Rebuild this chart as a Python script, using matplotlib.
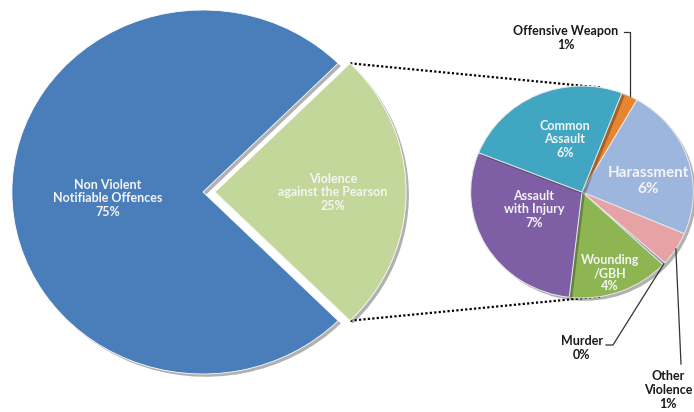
import numpy as np
import matplotlib
matplotlib.use("Agg")
import matplotlib.pyplot as plt
import matplotlib.patheffects as pe

# ---------------------------------------------------------------------------
# Datos
# ---------------------------------------------------------------------------
main_labels = ["Non Violent\nNotifiable Offences", "Violence\nagainst the Pearson"]
main_values = [75, 25]
main_colors = ["#4A7EBB", "#C4D79B"]

sub_labels = ["Offensive Weapon", "Harassment", "Other\nViolence", "Murder",
              "Wounding\n/GBH", "Assault\nwith Injury", "Common\nAssault"]
sub_values = [0.6, 5.8, 1.3, 0.1, 3.7, 7.3, 6.2]
sub_colors = ["#E8862F", "#9DB6DE", "#E6A2A5", "#8C8FA8",
              "#8DB652", "#7E5FA6", "#40A6C1"]

# ---------------------------------------------------------------------------
# Geometría (coordenadas en píxeles, la imagen va algo estirada en x)
# ---------------------------------------------------------------------------
W, H = 694, 412
SX = 1.05


def px(x, y):
    return x / SX, H - y


fig = plt.figure(figsize=(W / 100, H / 100), dpi=100)
ax = fig.add_axes([0, 0, 1, 1])

shadow = [pe.SimplePatchShadow(offset=(2, -2), alpha=0.35, shadow_rgbFace="#202020"),
          pe.Normal()]

big_c = px(203, 192)
big_r = 182
# explode en pie() va en unidades de datos, no en fracción del radio
explode = [0, 12 / SX]
wedges1, _ = ax.pie(main_values, colors=main_colors, startangle=-45,
                    counterclock=False, center=big_c, radius=big_r,
                    explode=explode,
                    wedgeprops=dict(edgecolor="white", linewidth=0.6))
for w in wedges1:
    w.set_path_effects(shadow)

small_c = px(582, 192)
small_r = 106
wedges2, _ = ax.pie(sub_values, colors=sub_colors, startangle=69,
                    counterclock=False, center=small_c, radius=small_r,
                    wedgeprops=dict(edgecolor="#E8E8E8", linewidth=0.7))
for w in wedges2:
    w.set_path_effects(shadow)

ax.set_aspect("auto")
ax.set_xlim(0, W / SX)
ax.set_ylim(0, H)
ax.axis("off")

# ---------------------------------------------------------------------------
# Líneas de conexión punteadas
# ---------------------------------------------------------------------------
g = wedges1[1]
gc = np.array(g.center)
for ang, sa in [(g.theta2, 80), (g.theta1, -80)]:
    p0 = gc + big_r * np.array([np.cos(np.radians(ang)), np.sin(np.radians(ang))])
    p1 = np.array(small_c) + small_r * np.array([np.cos(np.radians(sa)), np.sin(np.radians(sa))])
    ax.plot([p0[0], p1[0]], [p0[1], p1[1]], color="black", lw=1.6,
            linestyle=(0, (1, 1)), zorder=0)

# ---------------------------------------------------------------------------
# Etiquetas
# ---------------------------------------------------------------------------
FONT = "Lato"


def inner(x, y, s, size=9):
    ax.text(*px(x, y), s, ha="center", va="center", color="#F4F4F4",
            fontsize=size, fontweight="bold", family=FONT, linespacing=1.15)


def outer(x, y, s):
    ax.text(*px(x, y), s, ha="center", va="center", color="#1A1A1A",
            fontsize=9, fontweight="bold", family=FONT, linespacing=1.15)


inner(108, 198, f"{main_labels[0]}\n{main_values[0]}%")
inner(333, 192, f"{main_labels[1]}\n{main_values[1]}%")

inner(565, 139, f"{sub_labels[6]}\n{sub_values[6]:.0f}%")
inner(648, 181, f"{sub_labels[1]}\n{sub_values[1]:.0f}%", size=11)
inner(534, 209, f"{sub_labels[5]}\n{sub_values[5]:.0f}%")
inner(610, 273, f"{sub_labels[4]}\n{sub_values[4]:.0f}%")

outer(566, 38, f"{sub_labels[0]}\n{sub_values[0]:.0f}%")
outer(582, 348, f"{sub_labels[3]}\n{sub_values[3]:.0f}%")
outer(668, 390, f"{sub_labels[2]}\n{sub_values[2]:.0f}%")


# líneas guía de las etiquetas externas hacia su porción
def slice_edge(w, frac=1.0):
    mid = np.radians((w.theta1 + w.theta2) / 2)
    c = np.array(w.center)
    return c + w.r * frac * np.array([np.cos(mid), np.sin(mid)])


lead = dict(color="#333333", lw=0.9, zorder=5)
p = slice_edge(wedges2[0])
a = px(624, 32)
ax.plot([a[0], p[0], p[0]], [a[1], a[1], p[1]], **lead)

p = slice_edge(wedges2[3])
a = px(606, 345)
b = px(613, 345)
ax.plot([a[0], b[0], p[0]], [a[1], b[1], p[1]], **lead)

p = slice_edge(wedges2[2])
a = px(681, 364)
ax.plot([a[0], p[0]], [a[1], p[1]], **lead)

fig.savefig("out.png", dpi=100)
